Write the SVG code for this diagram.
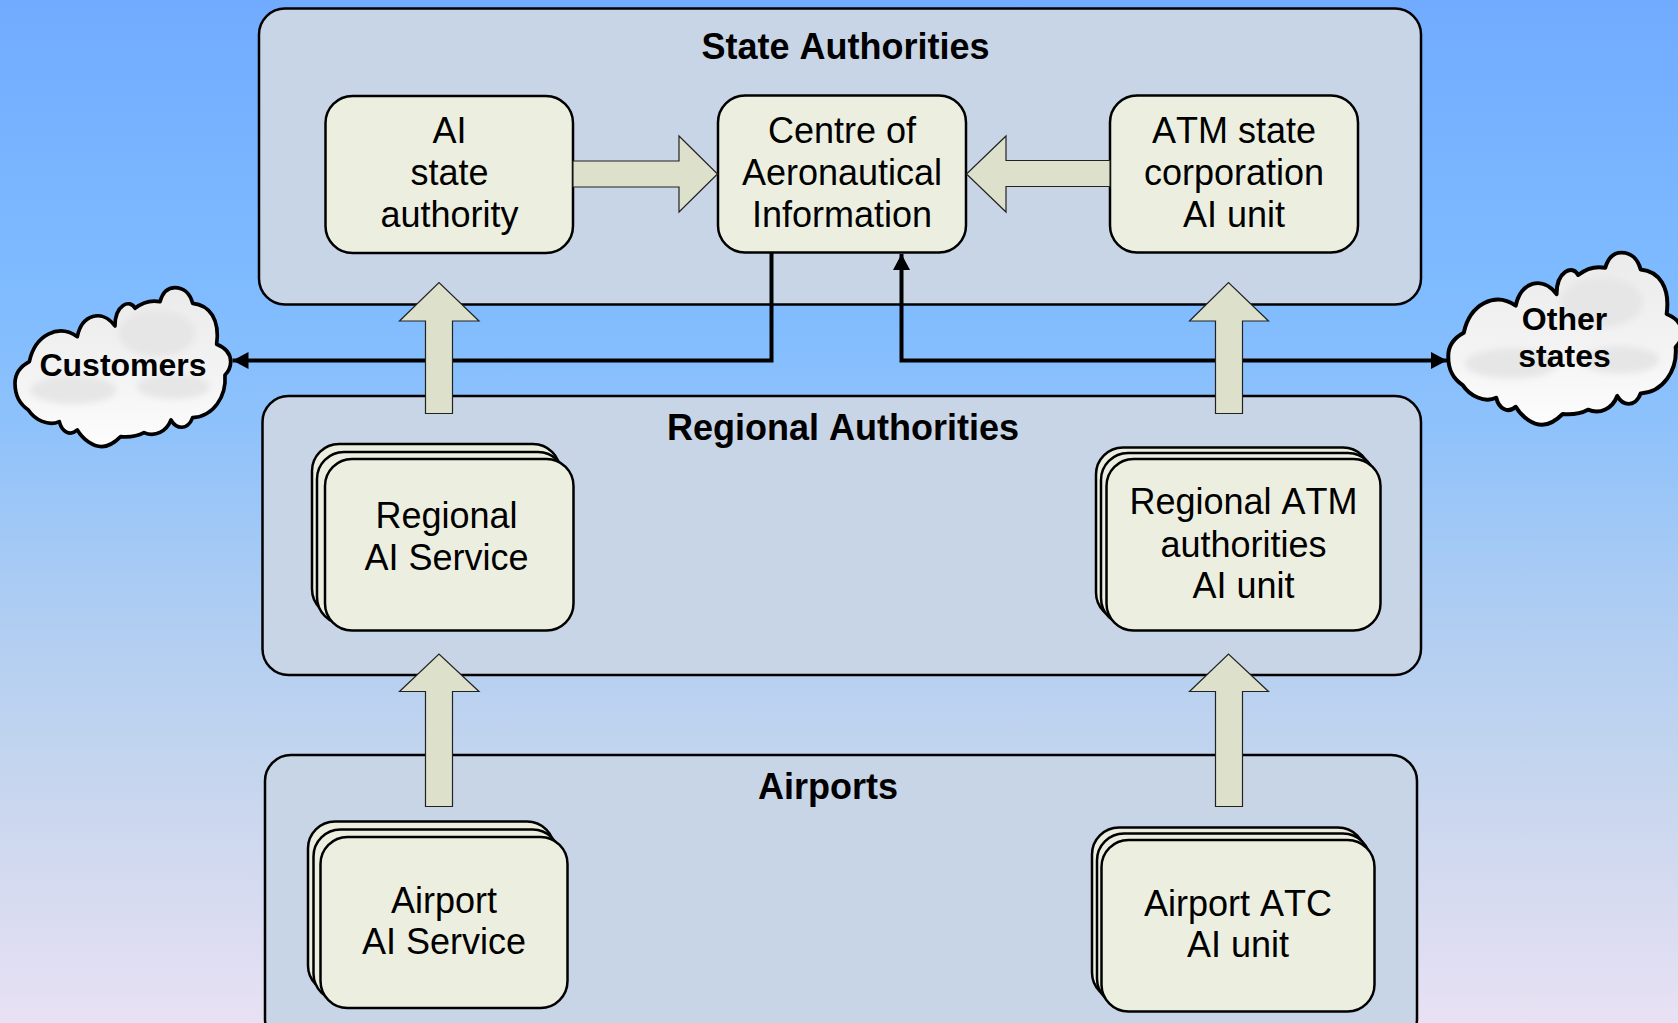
<svg xmlns="http://www.w3.org/2000/svg" width="1678" height="1023" viewBox="0 0 1678 1023">
<style>
text{font-family:"Liberation Sans",Arial,sans-serif;fill:#000;text-anchor:middle;font-kerning:none}
.n{font-size:36px}
.t{font-size:36px;font-weight:700}
.c{font-size:32px;font-weight:700}
.panel{fill:#c8d5e6;stroke:#000;stroke-width:2.5}
.box{fill:#eceFdf;stroke:#000;stroke-width:2.5}
.big{fill:#dde1cb;stroke:#222;stroke-width:1.2;stroke-linejoin:miter}
.line{fill:none;stroke:#000;stroke-width:4;stroke-linejoin:miter}
</style>
<defs>
<linearGradient id="bg" x1="0" y1="0" x2="0" y2="1">
<stop offset="0" stop-color="#70abff"/>
<stop offset="0.3" stop-color="#80bcff"/>
<stop offset="0.42" stop-color="#8fc2fb"/>
<stop offset="0.6" stop-color="#afcdf2"/>
<stop offset="0.75" stop-color="#c4d5ee"/>
<stop offset="1" stop-color="#e8e1f3"/>
</linearGradient>
<linearGradient id="cg" x1="0" y1="0" x2="0" y2="1">
<stop offset="0" stop-color="#ebebeb"/>
<stop offset="0.55" stop-color="#f3f3f3"/>
<stop offset="1" stop-color="#fdfdfd"/>
</linearGradient>
<filter id="soft" x="-20%" y="-20%" width="140%" height="140%"><feGaussianBlur stdDeviation="9"/></filter>
<marker id="ah" markerUnits="userSpaceOnUse" markerWidth="18" markerHeight="18" refX="16" refY="9" orient="auto-start-reverse">
<path d="M0 0.500 L16 9 L0 17.500 Z" fill="#000"/>
</marker>
<path id="cp" d="M480 185C490 150 510 143 525 143C550 143 570 160 578 190C630 195 660 240 650 313C680 325 692 345 692 365C692 385 685 395 675 405C680 470 640 530 578 533C570 555 555 562 545 562C530 562 520 552 513 540C500 575 465 592 432 578C410 590 385 592 362 590C340 612 320 620 305 620C280 620 250 600 232 570C210 590 185 575 178 545C145 560 105 540 85 510C55 490 45 465 45 430C45 400 60 380 88 365C105 285 175 250 232 290C245 225 305 205 345 258C345 195 390 175 405 205C430 185 455 180 480 185Z"/>
<clipPath id="cc"><use href="#cp"/></clipPath>
<g id="cloud">
<use href="#cp" fill="url(#cg)"/>
<g clip-path="url(#cc)" fill="#e6e6e6" filter="url(#soft)">
<ellipse cx="470" cy="280" rx="115" ry="70"/>
<ellipse cx="220" cy="450" rx="130" ry="42"/>
<ellipse cx="520" cy="440" rx="110" ry="38"/>
</g>
<use href="#cp" fill="none" stroke="#000" stroke-width="11" stroke-linejoin="round"/>
</g>
</defs>
<rect width="1678" height="1023" fill="url(#bg)"/>

<g id="panel-state"><rect class="panel" x="259" y="8.500" width="1162" height="296" rx="26"/><text class="t" x="845.500" y="58.500">State Authorities</text></g>
<g id="panel-regional"><rect class="panel" x="262.500" y="396" width="1158.500" height="279" rx="26"/><text class="t" x="843" y="440">Regional Authorities</text></g>
<g id="panel-airports"><rect class="panel" x="265" y="755" width="1152" height="290" rx="26"/><text class="t" x="828" y="798.500">Airports</text></g>

<g id="node-ai-state"><rect class="box" x="325.500" y="96" width="247.500" height="157" rx="27"/><text class="n" x="449.500" y="143">AI</text><text class="n" x="449.500" y="185">state</text><text class="n" x="449.500" y="227">authority</text></g>
<g id="node-centre"><rect class="box" x="718" y="95.500" width="248" height="157" rx="27"/><text class="n" x="842" y="143">Centre of</text><text class="n" x="842" y="184.500">Aeronautical</text><text class="n" x="842" y="226.500">Information</text></g>
<g id="node-atm-state"><rect class="box" x="1110" y="95.500" width="248" height="157" rx="27"/><text class="n" x="1234" y="143">ATM state</text><text class="n" x="1234" y="185">corporation</text><text class="n" x="1234" y="226.500">AI unit</text></g>

<g id="node-regional-ai">
<rect class="box" x="312" y="444" width="248" height="172" rx="27"/>
<rect class="box" x="317" y="452" width="248" height="172" rx="27"/>
<rect class="box" x="325" y="459" width="248.500" height="171.500" rx="27"/>
<text class="n" x="446.500" y="528">Regional</text><text class="n" x="446.500" y="570">AI Service</text></g>
<g id="node-regional-atm">
<rect class="box" x="1096" y="447.500" width="274" height="172" rx="27"/>
<rect class="box" x="1101" y="453" width="274" height="172" rx="27"/>
<rect class="box" x="1106.500" y="459" width="274" height="171.500" rx="27"/>
<text class="n" x="1243.500" y="514">Regional ATM</text><text class="n" x="1243.500" y="556.500">authorities</text><text class="n" x="1243.500" y="598">AI unit</text></g>
<g id="node-airport-ai">
<rect class="box" x="308" y="821.500" width="246" height="171" rx="27"/>
<rect class="box" x="313.500" y="829.500" width="246" height="171" rx="27"/>
<rect class="box" x="320.500" y="837" width="247" height="171" rx="27"/>
<text class="n" x="444" y="912.500">Airport</text><text class="n" x="444" y="954">AI Service</text></g>
<g id="node-airport-atc">
<rect class="box" x="1092" y="827.500" width="273" height="172" rx="27"/>
<rect class="box" x="1097" y="833.500" width="273" height="172" rx="27"/>
<rect class="box" x="1101.500" y="840" width="273" height="171.500" rx="27"/>
<text class="n" x="1238" y="916">Airport ATC</text><text class="n" x="1238" y="957">AI unit</text></g>

<g id="connectors">
<path class="line" d="M771.500 252V360.500H232.500" marker-end="url(#ah)"/>
<path class="line" d="M901.500 254V360.500H1447" marker-start="url(#ah)" marker-end="url(#ah)"/>
<path class="big" d="M573 161H679V136L717.500 174L679 212V187H573Z"/>
<path class="big" d="M1110 160.500H1006V136L966.500 174L1006 212V186.500H1110Z"/>
<path class="big" d="M425.500 413.500V321H399.500L439 282.500L479 321H452.500V413.500Z"/>
<path class="big" d="M1215.500 413.500V321H1189.500L1228.500 282.500L1268.500 321H1242.500V413.500Z"/>
<path class="big" d="M425.500 806.500V691.500H399.500L439 654L479 691.500H452.500V806.500Z"/>
<path class="big" d="M1215.500 806.500V691.500H1189.500L1228.500 654L1268.500 691.500H1242.500V806.500Z"/>
</g>

<g id="cloud-customers"><use href="#cloud" transform="scale(0.3333) translate(0 720)"/><text class="c" x="123" y="376">Customers</text></g>
<g id="cloud-other"><use href="#cloud" transform="translate(1432 201) scale(0.361)"/><text class="c" x="1564.500" y="330">Other</text><text class="c" x="1564.500" y="367">states</text></g>
</svg>
